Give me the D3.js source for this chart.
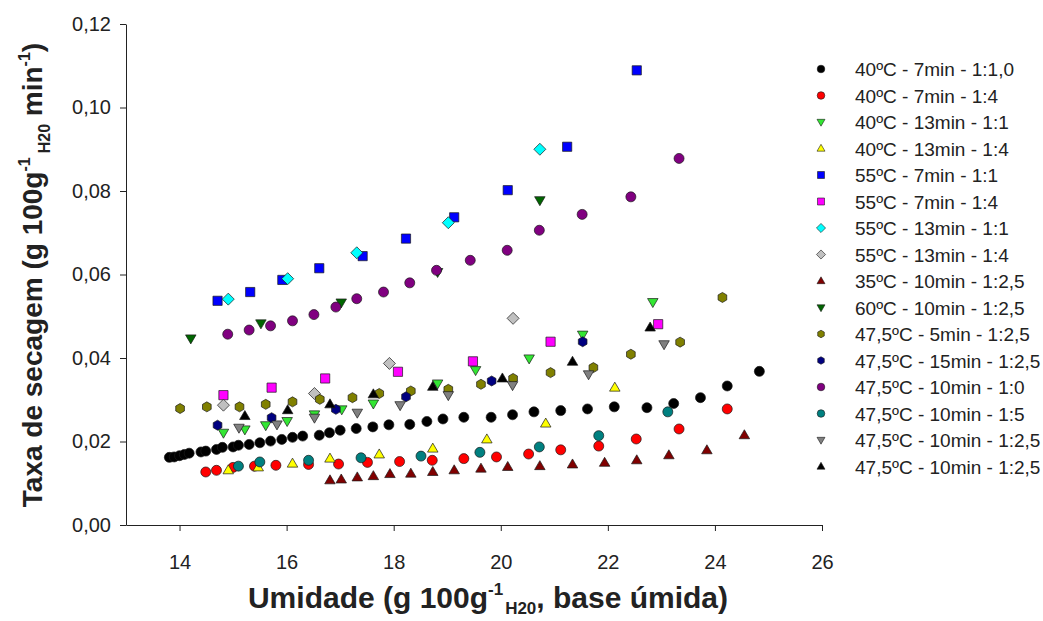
<!DOCTYPE html>
<html>
<head>
<meta charset="utf-8">
<script src="https://cdn.jsdelivr.net/npm/d3@7"></script>
<style>
  body { margin: 0; background: #fff; }
  text { font-family: "Liberation Sans", Arial, sans-serif; }
</style>
</head>
<body>
<div id="chart"></div>
<script>
/*
Taxa de secagem x Umidade - scatter with 16 series
*/

var svgWidth = 1043,
    svgHeight = 621;

// Series names (legend order)
var seriesNames = [
    "40ºC - 7min - 1:1,0", "40ºC - 7min - 1:4", "40ºC - 13min - 1:1", "40ºC - 13min - 1:4",
    "55ºC - 7min - 1:1", "55ºC - 7min - 1:4", "55ºC - 13min - 1:1", "55ºC - 13min - 1:4",
    "35ºC - 10min - 1:2,5", "60ºC - 10min - 1:2,5", "47,5ºC - 5min - 1:2,5", "47,5ºC - 15min - 1:2,5",
    "47,5ºC - 10min - 1:0", "47,5ºC - 10min - 1:5", "47,5ºC - 10min - 1:2,5", "47,5ºC - 10min - 1:2,5"
];

// 40ºC - 7min - 1:1,0
var umid1 = [13.81,13.90,14.00,14.09,14.18,14.40,14.49,14.69,14.80,15.00,15.10,15.30,15.50,15.70,15.91,16.11,16.30,16.61,16.80,17.00,17.30,17.61,17.91,18.30,18.62,18.92,19.31,19.82,20.22,20.62,21.12,21.62,22.12,22.73,23.23,23.73,24.23,24.83];
var taxa1 = [0.0162,0.0163,0.0166,0.0169,0.0172,0.0175,0.0177,0.0181,0.0186,0.0187,0.0191,0.0193,0.0197,0.0201,0.0205,0.0210,0.0213,0.0215,0.0221,0.0227,0.0231,0.0235,0.0240,0.0241,0.0248,0.0254,0.0258,0.0258,0.0264,0.0271,0.0274,0.0278,0.0283,0.0281,0.0291,0.0305,0.0333,0.0368];
// 40ºC - 7min - 1:4
var umid2 = [14.49,14.69,15.00,15.40,15.80,16.41,16.97,17.51,18.11,18.72,19.31,19.92,20.52,21.12,21.83,22.53,23.33,24.23];
var taxa2 = [0.0127,0.0131,0.0138,0.0141,0.0143,0.0145,0.0146,0.0150,0.0152,0.0155,0.0159,0.0163,0.0170,0.0180,0.0189,0.0206,0.0230,0.0278];
// 40ºC - 13min - 1:1
var umid3 = [14.82,15.22,15.61,16.01,16.52,17.03,17.62,18.82,19.53,20.53,21.53,22.84];
var taxa3 = [0.0221,0.0229,0.0239,0.0249,0.0265,0.0277,0.0291,0.0339,0.0371,0.0399,0.0456,0.0534];
// 40ºC - 13min - 1:4
var umid4 = [14.91,15.47,16.11,16.81,17.73,18.73,19.74,20.84,22.13];
var taxa4 = [0.0131,0.0138,0.0147,0.0159,0.0169,0.0183,0.0205,0.0243,0.0329];
// 55ºC - 7min - 1:1
var umid5 = [14.71,15.32,15.92,16.61,17.42,18.23,19.13,20.13,21.24,22.54];
var taxa5 = [0.0537,0.0558,0.0587,0.0615,0.0644,0.0686,0.0737,0.0802,0.0906,0.1089];
// 55ºC - 7min - 1:4
var umid6 = [14.82,15.72,16.72,18.08,19.48,20.93,22.94];
var taxa6 = [0.0311,0.0329,0.0351,0.0367,0.0392,0.0439,0.0481];
// 55ºC - 13min - 1:1
var umid7 = [14.91,16.02,17.31,19.02,20.73];
var taxa7 = [0.0541,0.0590,0.0652,0.0724,0.0900];
// 55ºC - 13min - 1:4
var umid8 = [14.82,16.52,17.92,20.23];
var taxa8 = [0.0287,0.0315,0.0387,0.0495];
// 35ºC - 10min - 1:2,5
var umid9 = [16.81,17.02,17.32,17.62,17.93,18.32,18.73,19.13,19.63,20.13,20.73,21.34,21.94,22.54,23.14,23.85,24.55];
var taxa9 = [0.0107,0.0109,0.0114,0.0117,0.0122,0.0123,0.0127,0.0131,0.0135,0.0139,0.0141,0.0145,0.0149,0.0155,0.0167,0.0179,0.0215];
// 60ºC - 10min - 1:2,5
var umid10 = [14.21,15.52,17.02,18.82,20.73];
var taxa10 = [0.0447,0.0483,0.0533,0.0606,0.0778];
// 47,5ºC - 5min - 1:2,5
var umid11 = [14.01,14.51,15.12,15.61,16.11,16.62,17.23,17.73,18.32,19.02,19.63,20.23,20.93,21.73,22.43,23.35,24.14];
var taxa11 = [0.0279,0.0283,0.0283,0.0289,0.0295,0.0301,0.0305,0.0315,0.0321,0.0325,0.0337,0.0351,0.0365,0.0377,0.0409,0.0438,0.0545];
// 47,5ºC - 15min - 1:2,5
var umid12 = [14.71,15.72,16.92,18.23,19.83,21.53];
var taxa12 = [0.0239,0.0257,0.0277,0.0307,0.0345,0.0439];
// 47,5ºC - 10min - 1:0
var umid13 = [14.90,15.30,15.70,16.11,16.51,16.92,17.31,17.81,18.30,18.80,19.43,20.12,20.72,21.52,22.43,23.33];
var taxa13 = [0.0457,0.0467,0.0477,0.0489,0.0504,0.0522,0.0542,0.0558,0.0580,0.0610,0.0634,0.0658,0.0706,0.0744,0.0786,0.0878];
// 47,5ºC - 10min - 1:5
var umid14 = [15.10,15.50,16.41,17.39,18.51,19.61,20.72,21.83,23.12];
var taxa14 = [0.0141,0.0151,0.0155,0.0161,0.0165,0.0174,0.0187,0.0214,0.0271];
// 47,5ºC - 10min - 1:2,5 (gray)
var umid15 = [15.11,15.82,16.52,17.32,18.12,19.02,20.22,21.64,23.05];
var taxa15 = [0.0233,0.0241,0.0257,0.0269,0.0287,0.0311,0.0335,0.0361,0.0433];
// 47,5ºC - 10min - 1:2,5 (black)
var umid16 = [15.22,16.02,16.81,17.62,18.73,20.03,21.34,22.79];
var taxa16 = [0.0261,0.0275,0.0289,0.0313,0.0331,0.0351,0.0391,0.0473];

var xTicks = [14, 16, 18, 20, 22, 24, 26];
var yTicks = [0, 0.02, 0.04, 0.06, 0.08, 0.10, 0.12];

var umidAll = [umid1,umid2,umid3,umid4,umid5,umid6,umid7,umid8,umid9,umid10,umid11,umid12,umid13,umid14,umid15,umid16];
var taxaAll = [taxa1,taxa2,taxa3,taxa4,taxa5,taxa6,taxa7,taxa8,taxa9,taxa10,taxa11,taxa12,taxa13,taxa14,taxa15,taxa16];

// Custom symbols, size = radius in px
var symCircle = { draw: function(ctx, r){ ctx.moveTo(r, 0); ctx.arc(0, 0, r, 0, 2 * Math.PI); } };
var symSquare = { draw: function(ctx, r){ var s = r * 0.92; ctx.rect(-s, -s, 2 * s, 2 * s); } };
var symTriUp = { draw: function(ctx, r){ ctx.moveTo(0, -r * 1.1); ctx.lineTo(r * 1.05, r * 0.7); ctx.lineTo(-r * 1.05, r * 0.7); ctx.closePath(); } };
var symTriDown = { draw: function(ctx, r){ ctx.moveTo(0, r * 1.1); ctx.lineTo(r * 1.05, -r * 0.7); ctx.lineTo(-r * 1.05, -r * 0.7); ctx.closePath(); } };
var symDiamond = { draw: function(ctx, r){ var s = r * 1.2; ctx.moveTo(0, -s); ctx.lineTo(s, 0); ctx.lineTo(0, s); ctx.lineTo(-s, 0); ctx.closePath(); } };
var symHex = { draw: function(ctx, r){
    for (var k = 0; k < 6; k++){
        var a = -Math.PI / 2 + k * Math.PI / 3;
        if (k === 0) ctx.moveTo(r * Math.cos(a), r * Math.sin(a));
        else ctx.lineTo(r * Math.cos(a), r * Math.sin(a));
    }
    ctx.closePath();
} };

var seriesSymbols = [symCircle, symCircle, symTriDown, symTriUp, symSquare, symSquare, symDiamond, symDiamond,
                     symTriUp, symTriDown, symHex, symHex, symCircle, symCircle, symTriDown, symTriUp];
var seriesColors = ["#000000", "#ff0000", "#33e633", "#ffff00", "#0000ff", "#ff00ff", "#00ffff", "#c0c0c0",
                    "#800000", "#006600", "#808000", "#000080", "#800080", "#008080", "#808080", "#000000"];

var svg = d3.select("#chart")
    .append("svg")
        .attr("width", svgWidth)
        .attr("height", svgHeight);

// Scales
var x = d3.scaleLinear().domain([13, 26]).range([126, 822]);
var y = d3.scaleLinear().domain([0, 0.12]).range([525, 24]);

// Axes
var xAxisGroup = svg.append("g")
    .attr("transform", "translate(0, 525)")
    .call(d3.axisBottom(x).tickValues(xTicks).tickSize(6).tickSizeOuter(0).tickPadding(24).tickFormat(d3.format("d")));

var yAxisGroup = svg.append("g")
    .attr("transform", "translate(126, 0)")
    .call(d3.axisLeft(y).tickValues(yTicks).tickSize(6).tickSizeOuter(0).tickPadding(9)
        .tickFormat(d => d3.format(".2f")(d).replace(".", ",")));

svg.selectAll(".tick text")
    .attr("font-size", "20px")
    .attr("font-family", "'Liberation Sans', Arial, sans-serif")
    .attr("fill", "#222");
svg.selectAll(".domain, .tick line").attr("stroke", "#222");

// Points
seriesNames.forEach(function(name, i){
    var pts = umidAll[i].map((u, j) => ({u: u, t: taxaAll[i][j]}));
    svg.append("g")
        .selectAll("path")
        .data(pts)
        .enter()
        .append("path")
            .attr("transform", d => `translate(${x(d.u)}, ${y(d.t)})`)
            .attr("d", d3.symbol().type(seriesSymbols[i]).size(5))
            .attr("fill", seriesColors[i])
            .attr("stroke", "#1a1a1a")
            .attr("stroke-width", 0.7);
});

// Legend
var legend = svg.append("g");
seriesNames.forEach(function(name, i){
    var ly = 69 + i * 26.5;
    legend.append("path")
        .attr("transform", `translate(821, ${ly})`)
        .attr("d", d3.symbol().type(seriesSymbols[i]).size(3.8))
        .attr("fill", seriesColors[i])
        .attr("stroke", "#1a1a1a")
        .attr("stroke-width", 0.6);
    legend.append("text")
        .attr("x", 855)
        .attr("y", ly + 7)
        .attr("font-size", "19px")
        .attr("fill", "#222")
        .text(name);
});

// X title
var xTitle = svg.append("text")
    .attr("x", 488)
    .attr("y", 608)
    .attr("text-anchor", "middle")
    .attr("font-size", "30px")
    .attr("font-weight", "bold")
    .attr("fill", "#222");
xTitle.append("tspan").text("Umidade (g 100g");
xTitle.append("tspan").attr("font-size", "17px").attr("dy", -13).text("-1");
xTitle.append("tspan").attr("font-size", "17px").attr("dy", 19).attr("dx", 2).text("H20");
xTitle.append("tspan").attr("dy", -6).text(", base úmida)");

// Y title
var yTitle = svg.append("text")
    .attr("transform", "translate(42, 275) rotate(-90)")
    .attr("text-anchor", "middle")
    .attr("font-size", "28px")
    .attr("font-weight", "bold")
    .attr("fill", "#222");
yTitle.append("tspan").text("Taxa de secagem (g 100g");
yTitle.append("tspan").attr("font-size", "16px").attr("dy", -12).text("-1");
yTitle.append("tspan").attr("font-size", "16px").attr("dy", 20).attr("dx", 4).text("H20");
yTitle.append("tspan").attr("dy", -8).text(" min");
yTitle.append("tspan").attr("font-size", "16px").attr("dy", -12).text("-1");
yTitle.append("tspan").attr("dy", 12).text(")");
</script>
</body>
</html>
